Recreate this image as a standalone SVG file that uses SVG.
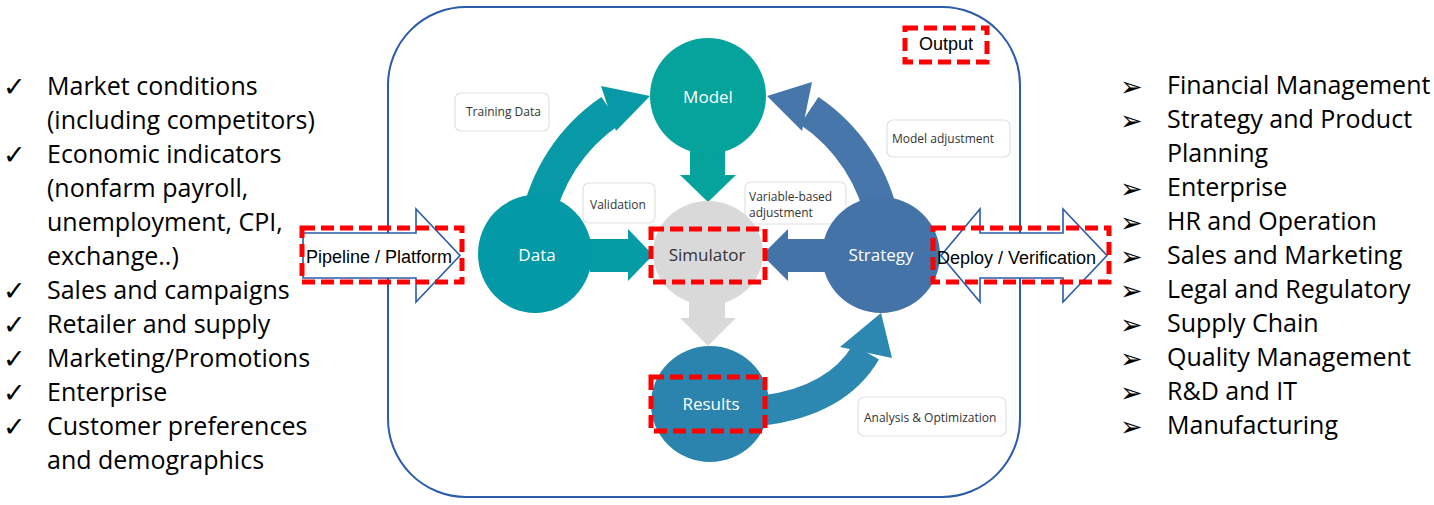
<svg xmlns="http://www.w3.org/2000/svg" width="1434" height="505" viewBox="0 0 1434 505">
<style>
.list{font-family:"Open Sans","Liberation Sans",sans-serif;font-size:25px;fill:#000}
.chk{font-family:"DejaVu Sans",sans-serif;font-size:27px;fill:#000}
.arr{font-family:"DejaVu Sans",sans-serif;font-size:27px;fill:#000}
.lbl{font-family:"Open Sans","Liberation Sans",sans-serif;font-size:12px;fill:#333}
.lblbox{fill:#fff;stroke:#e2e2e2;stroke-width:1.2}
.node{font-family:"Open Sans","Liberation Sans",sans-serif;font-size:17px;fill:#fff;text-anchor:middle}
.red{fill:none;stroke:#ff0000;stroke-width:5;stroke-dasharray:13 6}
.blk{fill:#fff;stroke:#2a5caa;stroke-width:1.6}
.arial{font-family:"Liberation Sans",Arial,sans-serif;font-size:18px;fill:#000}
</style>
<rect width="1434" height="505" fill="#fff"/>

<g id="frame">
<rect x="388" y="7" width="632" height="490" rx="78" ry="78" fill="none" stroke="#2a5caa" stroke-width="2"/>
</g>

<g id="labels">
<g id="lbl-training"><rect class="lblbox" x="455" y="93" width="94" height="38" rx="6"/><text class="lbl" x="466" y="116">Training Data</text></g>
<g id="lbl-validation"><rect class="lblbox" x="583" y="183" width="72" height="40" rx="6"/><text class="lbl" x="590" y="209">Validation</text></g>
<g id="lbl-variable"><rect class="lblbox" x="745" y="182" width="101" height="42" rx="6"/><text class="lbl" x="749" y="201">Variable-based</text><text class="lbl" x="749" y="217">adjustment</text></g>
<g id="lbl-modeladj"><rect class="lblbox" x="887" y="120" width="123" height="37" rx="6"/><text class="lbl" x="892" y="143">Model adjustment</text></g>
<g id="lbl-analysis"><rect class="lblbox" x="858" y="397" width="148" height="39" rx="6"/><text class="lbl" x="864" y="422">Analysis &amp; Optimization</text></g>
</g>

<g id="connectors">
<path d="M536.6 224.8 A174 174 0 0 1 610.7 110.7" fill="none" stroke="#0799a6" stroke-width="33"/>
<polygon points="601,86 650,96 616,131" fill="#0799a6"/>
<path d="M883.4 224.8 A174 174 0 0 0 809.3 110.7" fill="none" stroke="#4676aa" stroke-width="33"/>
<polygon points="812,82 767,96 802,131" fill="#4676aa"/>
<path d="M750 412 Q835 405 866 352" fill="none" stroke="#2c87b1" stroke-width="30"/>
<polygon points="840,347 881,313 892,358" fill="#2c87b1"/>
<polygon points="590,239 628,239 628,229 653,255 628,281 628,272 590,272" fill="#069ca5"/>
<polygon points="825,239 788,239 788,229 762,255 788,281 788,272 825,272" fill="#4473a8"/>
<polygon points="690,148 725,148 725,175 736,175 708,202 680,175 690,175" fill="#05a39b"/>
<polygon points="689,295 725,295 725,318 736,318 708,346 680,318 689,318" fill="#d9d9d9"/>
</g>

<g id="node-model"><ellipse cx="708" cy="96" rx="58" ry="58" fill="#05a39b"/><text class="node" x="708" y="103">Model</text></g>
<g id="node-data"><ellipse cx="535" cy="254" rx="57" ry="59" fill="#0499a6"/><text class="node" x="537" y="261">Data</text></g>
<g id="node-simulator"><ellipse cx="708" cy="253" rx="55" ry="52" fill="#d9d9d9"/><text class="node" x="707" y="261" style="fill:#333">Simulator</text></g>
<g id="node-strategy"><ellipse cx="881" cy="255" rx="59" ry="58" fill="#4473a8"/><text class="node" x="881" y="261">Strategy</text></g>
<g id="node-results"><ellipse cx="710" cy="404" rx="59" ry="58" fill="#2b84ae"/><text class="node" x="711" y="410">Results</text></g>

<g id="pipeline">
<polygon class="blk" points="303,233 416,233 416,209 460,255.5 416,302 416,278 303,278"/>
<text class="arial" x="306" y="263">Pipeline / Platform</text>
</g>
<g id="deploy">
<polygon class="blk" points="941,255.5 980,209 980,233 1063,233 1063,209 1107,255.5 1063,302 1063,278 980,278 980,302"/>
<text class="arial" x="937" y="264">Deploy / Verification</text>
</g>
<g id="output">
<text class="arial" x="946" y="50" text-anchor="middle">Output</text>
</g>

<g id="highlights">
<rect class="red" x="905" y="28" width="82" height="34"/>
<rect class="red" x="651" y="229" width="114" height="53"/>
<rect class="red" x="651" y="377" width="114" height="54"/>
<rect class="red" x="302" y="228" width="160" height="54"/>
<rect class="red" x="933" y="228" width="176" height="54"/>
</g>

<g id="inputs">
<text class="chk" x="3" y="96">✓</text><text class="list" x="47" y="95">Market conditions</text>
<text class="list" x="47" y="129">(including competitors)</text>
<text class="chk" x="3" y="164">✓</text><text class="list" x="47" y="163">Economic indicators</text>
<text class="list" x="47" y="197">(nonfarm payroll,</text>
<text class="list" x="47" y="231">unemployment, CPI,</text>
<text class="list" x="47" y="265">exchange..)</text>
<text class="chk" x="3" y="300">✓</text><text class="list" x="47" y="299">Sales and campaigns</text>
<text class="chk" x="3" y="334">✓</text><text class="list" x="47" y="333">Retailer and supply</text>
<text class="chk" x="3" y="368">✓</text><text class="list" x="47" y="367">Marketing/Promotions</text>
<text class="chk" x="3" y="402">✓</text><text class="list" x="47" y="401">Enterprise</text>
<text class="chk" x="3" y="436">✓</text><text class="list" x="47" y="435">Customer preferences</text>
<text class="list" x="47" y="469">and demographics</text>
</g>

<g id="outputs">
<text class="arr" x="1120" y="96">➢</text><text class="list" x="1167" y="94">Financial Management</text>
<text class="arr" x="1120" y="130">➢</text><text class="list" x="1167" y="128">Strategy and Product</text>
<text class="list" x="1167" y="162">Planning</text>
<text class="arr" x="1120" y="198">➢</text><text class="list" x="1167" y="196">Enterprise</text>
<text class="arr" x="1120" y="232">➢</text><text class="list" x="1167" y="230">HR and Operation</text>
<text class="arr" x="1120" y="266">➢</text><text class="list" x="1167" y="264">Sales and Marketing</text>
<text class="arr" x="1120" y="300">➢</text><text class="list" x="1167" y="298">Legal and Regulatory</text>
<text class="arr" x="1120" y="334">➢</text><text class="list" x="1167" y="332">Supply Chain</text>
<text class="arr" x="1120" y="368">➢</text><text class="list" x="1167" y="366">Quality Management</text>
<text class="arr" x="1120" y="402">➢</text><text class="list" x="1167" y="400">R&amp;D and IT</text>
<text class="arr" x="1120" y="436">➢</text><text class="list" x="1167" y="434">Manufacturing</text>
</g>
</svg>
